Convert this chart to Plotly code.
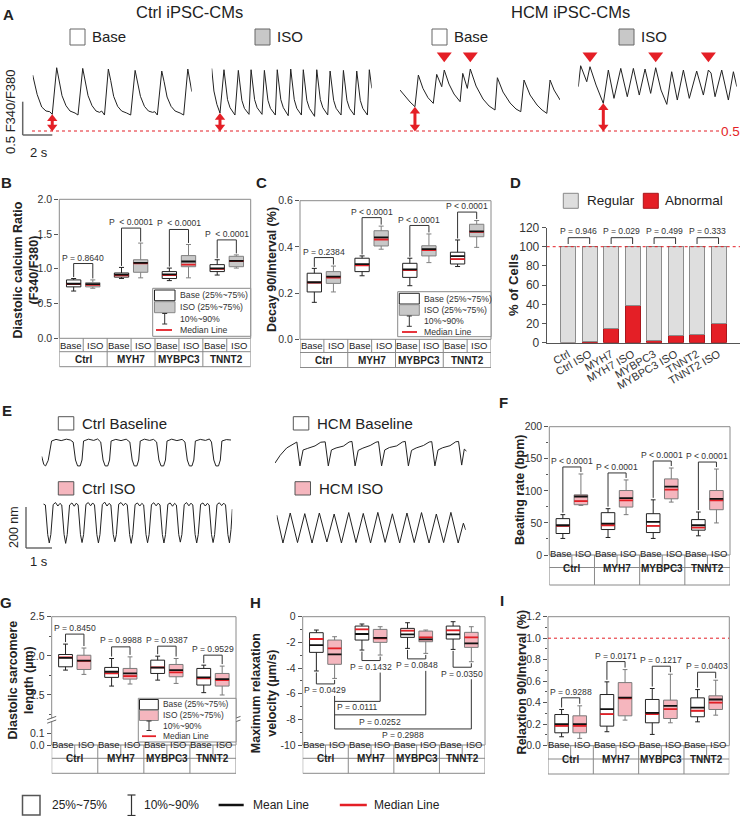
import plotly.graph_objects as go

# ======================= DATA =======================
GROUPS = ['Ctrl', 'MYH7', 'MYBPC3', 'TNNT2']
CONDS = ['Base', 'ISO']

# ---- A: calcium transients (time s, F340/F380 ratio) ----
ctrl_base_trace = [(0.00, 1.34), (0.30, 1.05), (0.61, 0.86), (0.90, 0.80), (1.15, 0.79), (1.32, 0.75),
    (1.62, 1.45), (1.78, 1.27), (1.98, 1.03), (2.25, 0.88), (2.52, 0.80), (2.86, 0.77), (3.06, 0.74),
    (3.38, 1.44), (3.54, 1.27), (3.74, 1.03), (4.01, 0.88), (4.28, 0.80), (4.52, 0.78), (4.66, 0.80), (4.85, 0.74),
    (5.11, 1.43), (5.27, 1.26), (5.47, 1.02), (5.74, 0.87), (6.01, 0.80), (6.35, 0.77), (6.62, 0.74),
    (6.92, 1.41), (7.08, 1.25), (7.28, 1.02), (7.55, 0.87), (7.82, 0.80), (8.10, 0.78), (8.25, 0.79), (8.42, 0.74),
    (8.72, 1.40), (8.88, 1.24), (9.08, 1.01), (9.35, 0.87), (9.62, 0.80), (9.96, 0.77), (10.20, 0.74),
    (10.48, 1.43), (10.60, 1.30), (10.75, 1.09)]
ctrl_iso_trace = [(0.00, 1.44), (0.15, 1.10), (0.35, 0.90), (0.56, 0.77),
    (0.83, 1.42), (0.93, 1.19), (1.07, 0.97), (1.24, 0.85), (1.44, 0.77), (1.57, 0.74),
    (1.80, 1.41), (1.90, 1.18), (2.04, 0.96), (2.21, 0.84), (2.41, 0.77), (2.52, 0.75),
    (2.66, 1.42), (2.76, 1.19), (2.90, 0.97), (3.07, 0.85), (3.27, 0.78), (3.40, 0.75),
    (3.56, 1.41), (3.66, 1.18), (3.80, 0.96), (3.97, 0.84), (4.17, 0.77), (4.30, 0.74),
    (4.43, 1.42), (4.53, 1.19), (4.67, 0.97), (4.84, 0.85), (5.04, 0.77), (5.17, 0.73),
    (5.34, 1.43), (5.44, 1.19), (5.58, 0.97), (5.75, 0.84), (5.95, 0.77), (6.06, 0.74),
    (6.19, 1.42), (6.29, 1.18), (6.43, 0.96), (6.60, 0.84), (6.80, 0.76), (6.95, 0.72),
    (7.10, 1.42), (7.20, 1.19), (7.34, 0.97), (7.51, 0.85), (7.71, 0.77), (7.84, 0.74),
    (8.00, 1.40), (8.10, 1.18), (8.24, 0.96), (8.41, 0.84), (8.61, 0.77), (8.74, 0.74),
    (8.90, 1.41), (9.00, 1.18), (9.14, 0.96), (9.31, 0.84), (9.51, 0.77), (9.63, 0.74),
    (9.80, 1.40), (9.90, 1.17), (10.04, 0.96), (10.21, 0.84), (10.41, 0.77), (10.52, 0.74),
    (10.65, 1.42), (10.72, 1.30), (10.82, 1.14)]
hcm_base_trace = [(0.00, 1.115), (0.34, 1.025), (0.68, 0.935), (1.01, 0.865), (1.24, 1.34), (1.55, 1.14),
    (1.89, 1.00), (2.25, 0.915), (2.48, 1.35), (2.82, 1.165), (2.99, 1.415), (3.31, 1.205), (3.65, 1.055),
    (4.06, 0.94), (4.24, 1.365), (4.55, 1.14), (4.75, 1.43), (5.14, 1.175), (5.61, 0.98), (6.02, 0.875),
    (6.42, 0.815), (6.58, 1.30), (6.96, 1.085), (7.44, 0.92), (7.84, 0.83), (8.16, 0.79), (8.38, 1.265),
    (8.79, 1.04), (9.26, 0.89), (9.60, 0.815), (9.92, 0.765), (10.14, 1.265), (10.41, 1.115), (10.82, 0.965)]
hcm_iso_trace = [(0.00, 1.165), (0.16, 1.48), (0.57, 1.24), (0.79, 1.465), (1.20, 1.19), (1.69, 0.915),
    (2.03, 1.415), (2.41, 0.99), (2.87, 1.44), (3.31, 1.015), (3.72, 1.44), (4.12, 1.04), (4.51, 1.43),
    (4.89, 1.065), (5.23, 1.45), (5.59, 1.115), (5.98, 0.90), (6.31, 1.39), (6.69, 0.965), (7.10, 1.415),
    (7.50, 0.99), (8.00, 1.40), (8.45, 1.04), (8.79, 1.415), (8.97, 1.37), (9.24, 1.015), (9.69, 1.415),
    (10.14, 0.965), (10.48, 1.39), (10.71, 1.165)]
A_arrow_t = [1.32, 0.56, 1.01, 1.69]          # diastolic points marked with arrows
A_arrow_r = [0.75, 0.77, 0.865, 0.915]
hcm_base_marked_t = [2.99, 4.75]              # abnormal beats (red triangles)
hcm_iso_marked_t = [0.79, 5.23, 8.79]
A_ref_level = 0.5

# ---- E: sarcomere length traces (time s, displacement nm) ----
ctrl_base_sl = [(0.00, -80), (0.08, -120), (0.15, -127), (0.25, -100), (0.38, -5), (0.55, 3), (0.75, -3),
    (0.95, 4), (1.10, 0), (1.21, -10), (1.30, -98), (1.38, -127), (1.48, -127), (1.55, -98), (1.61, -5),
    (1.80, 4), (2.00, -2), (2.15, 5), (2.27, -10), (2.36, -98), (2.44, -127), (2.54, -127), (2.61, -98),
    (2.67, -5), (2.85, 3), (3.05, -3), (3.25, 4), (3.39, -10), (3.48, -98), (3.56, -127), (3.66, -127),
    (3.73, -98), (3.79, -5), (3.95, 4), (4.15, -2), (4.30, 3), (4.42, -10), (4.51, -98), (4.59, -127),
    (4.69, -127), (4.76, -98), (4.82, -5), (5.00, 4), (5.20, -3), (5.40, 3), (5.51, -10), (5.60, -98),
    (5.68, -127), (5.78, -127), (5.85, -98), (5.91, -5), (6.10, 3), (6.30, -2), (6.45, 5), (6.53, -10),
    (6.62, -98), (6.70, -127), (6.80, -127), (6.87, -98), (6.93, -5), (7.10, 2), (7.28, 0)]
ctrl_iso_sl = [(0.00, 5), (0.08, 0), (0.17, -145), (0.23, -186), (0.29, -145), (0.38, 2), (0.47, 12),
    (0.56, -5), (0.64, 8), (0.71, 0), (0.80, -145), (0.86, -188), (0.92, -145), (1.01, 0), (1.10, 10),
    (1.19, -6), (1.27, 9), (1.34, 0), (1.43, -145), (1.49, -184), (1.55, -145), (1.64, 3), (1.73, 12),
    (1.82, -4), (1.90, 10), (1.97, 0), (2.06, -145), (2.12, -186), (2.18, -145), (2.27, 2), (2.36, 14),
    (2.45, -5), (2.53, 8), (2.60, 0), (2.69, -145), (2.75, -180), (2.81, -145), (2.90, 4), (2.99, 12),
    (3.08, -3), (3.16, 9), (3.23, 0), (3.32, -145), (3.38, -188), (3.44, -145), (3.53, 2), (3.62, 10),
    (3.71, -5), (3.79, 8), (3.86, 0), (3.95, -145), (4.01, -185), (4.07, -145), (4.16, 2), (4.25, 11),
    (4.34, -4), (4.42, 9), (4.49, 0), (4.58, -145), (4.64, -186), (4.70, -145), (4.79, 3), (4.88, 10),
    (4.97, -6), (5.05, 8), (5.12, 0), (5.21, -145), (5.27, -182), (5.33, -145), (5.42, 2), (5.51, 12),
    (5.60, -4), (5.68, 9), (5.75, 0), (5.84, -145), (5.90, -186), (5.96, -145), (6.05, 3), (6.14, 10),
    (6.23, -5), (6.31, 8), (6.38, 0), (6.47, -145), (6.53, -184), (6.59, -145), (6.68, 2), (6.77, 11),
    (6.86, -3), (6.94, 9), (7.01, 0), (7.10, -145), (7.16, -186), (7.22, -120), (7.27, -20)]
hcm_base_sl = [(0.00, -108), (0.20, -70), (0.45, -34), (0.70, -18), (0.84, -5), (0.96, -122), (1.08, -44),
    (1.26, -36), (1.54, -24), (1.76, -6), (1.93, -4), (2.05, -122), (2.17, -44), (2.35, -34), (2.63, -25),
    (2.85, -5), (2.96, -2), (3.08, -122), (3.20, -46), (3.38, -35), (3.66, -22), (3.88, -6), (3.98, -3),
    (4.10, -122), (4.22, -44), (4.40, -32), (4.68, -24), (4.90, -5), (5.01, -2), (5.13, -122), (5.25, -46),
    (5.43, -34), (5.71, -22), (5.93, -5), (6.03, -3), (6.15, -122), (6.27, -44), (6.45, -33), (6.73, -23),
    (6.95, -4), (7.06, -2), (7.18, -118), (7.28, -40), (7.37, -50)]
hcm_iso_sl = [(0.00, -10), (0.24, -147), (0.52, 0), (0.80, -145), (1.08, -3), (1.36, -147), (1.64, 0),
    (1.93, -142), (2.21, -5), (2.49, -147), (2.77, 2), (3.05, -145), (3.33, -2), (3.61, -147), (3.89, 3),
    (4.17, -144), (4.45, -4), (4.73, -147), (5.01, 0), (5.29, -145), (5.57, 2), (5.86, -147), (6.14, -5),
    (6.42, -145), (6.70, 3), (6.98, -147), (7.18, -50), (7.27, -83)]

# ---- box statistics; order: Ctrl Base, Ctrl ISO, MYH7 Base, MYH7 ISO, MYBPC3 Base, MYBPC3 ISO, TNNT2 Base, TNNT2 ISO
B_p10 = [0.68, 0.72, 0.86, 0.87, 0.83, 0.87, 0.91, 1.01]
B_q1 = [0.74, 0.74, 0.88, 0.95, 0.86, 1.03, 0.96, 1.03]
B_med = [0.78, 0.77, 0.905, 1.08, 0.91, 1.06, 1.00, 1.11]
B_mean = [0.785, 0.78, 0.915, 1.085, 0.92, 1.105, 1.005, 1.115]
B_q3 = [0.84, 0.80, 0.94, 1.13, 0.96, 1.19, 1.06, 1.18]
B_p90 = [0.86, 0.84, 1.02, 1.37, 1.01, 1.35, 1.13, 1.20]
B_pvals = ['P = 0.8640', 'P  < 0.0001', 'P  < 0.0001', 'P  < 0.0001']

C_p10 = [0.16, 0.205, 0.275, 0.39, 0.232, 0.332, 0.315, 0.398]
C_q1 = [0.205, 0.242, 0.293, 0.404, 0.268, 0.361, 0.326, 0.444]
C_med = [0.245, 0.267, 0.32, 0.432, 0.30, 0.386, 0.347, 0.465]
C_mean = [0.247, 0.271, 0.325, 0.441, 0.303, 0.39, 0.36, 0.467]
C_q3 = [0.286, 0.293, 0.351, 0.47, 0.329, 0.405, 0.377, 0.498]
C_p90 = [0.307, 0.317, 0.361, 0.49, 0.351, 0.456, 0.43, 0.514]
C_pvals = ['P = 0.2384', 'P < 0.0001', 'P < 0.0001', 'P < 0.0001']

D_cats = ['Ctrl', 'Ctrl ISO', 'MYH7', 'MYH7 ISO', 'MYBPC3', 'MYBPC3 ISO', 'TNNT2', 'TNNT2 ISO']
D_abnormal = [0, 1.5, 15, 38.5, 2, 8, 8.5, 19.5]
D_regular = [100 - a for a in D_abnormal]
D_pvals = ['P = 0.946', 'P = 0.029', 'P = 0.499', 'P = 0.333']

F_p10 = [25.8, 77.3, 27.3, 62.9, 25.8, 82.5, 29.9, 50]
F_q1 = [33.5, 78.4, 39.7, 74.7, 35, 87.6, 38.7, 70.6]
F_med = [45.4, 84, 46.4, 85, 45.4, 102, 42.8, 85]
F_mean = [46.4, 91.2, 49, 88.7, 51.5, 106.7, 46.4, 87.6]
F_q3 = [56.7, 93.8, 66, 100.5, 64.4, 118.6, 55.2, 100.5]
F_p90 = [62.9, 126.3, 72.2, 117, 86, 135.6, 67, 134]
F_pvals = ['P < 0.0001'] * 4

G_p10 = [1.818, 1.763, 1.614, 1.64, 1.69, 1.648, 1.53, 1.50]
G_q1 = [1.86, 1.826, 1.725, 1.703, 1.775, 1.733, 1.627, 1.614]
G_med = [1.98, 1.935, 1.775, 1.742, 1.852, 1.788, 1.712, 1.69]
G_mean = [1.975, 1.94, 1.797, 1.775, 1.85, 1.818, 1.725, 1.703]
G_q3 = [2.017, 2.008, 1.852, 1.839, 1.945, 1.89, 1.839, 1.775]
G_p90 = [2.15, 2.10, 1.966, 1.987, 1.996, 1.966, 1.881, 1.869]
G_pvals = ['P = 0.8450', 'P = 0.9988', 'P = 0.9387', 'P = 0.9529']

H_p10 = [-4.23, -4.81, -2.6, -2.99, -2.47, -2.86, -2.55, -3.51]
H_q1 = [-2.78, -3.71, -1.82, -2.0, -1.61, -1.95, -1.74, -2.39]
H_med = [-1.74, -2.47, -0.99, -1.69, -1.09, -1.61, -1.06, -1.61]
H_mean = [-2.21, -2.94, -1.35, -1.65, -1.38, -1.77, -1.38, -2.08]
H_q3 = [-1.247, -1.82, -0.73, -0.99, -0.91, -1.12, -0.73, -1.22]
H_p90 = [-1.04, -1.56, -0.57, -0.78, -0.47, -1.04, -0.39, -0.78]
H_pair_pvals = ['P = 0.0429', 'P = 0.1432', 'P = 0.0848', 'P = 0.0350']
H_long_pvals = ['P = 0.0111', 'P = 0.0252', 'P = 0.2988']

I_p10 = [0.083, 0.068, 0.13, 0.238, 0.105, 0.213, 0.222, 0.284]
I_q1 = [0.12, 0.12, 0.182, 0.278, 0.213, 0.253, 0.269, 0.337]
I_med = [0.185, 0.185, 0.294, 0.44, 0.294, 0.34, 0.325, 0.40]
I_mean = [0.20, 0.20, 0.34, 0.448, 0.306, 0.371, 0.355, 0.43]
I_q3 = [0.29, 0.278, 0.476, 0.587, 0.43, 0.424, 0.445, 0.464]
I_p90 = [0.337, 0.371, 0.594, 0.708, 0.532, 0.665, 0.522, 0.609]
I_pvals = ['P = 0.9288', 'P = 0.0171', 'P = 0.1217', 'P = 0.0403']

# ======================= STYLE / HELPERS =======================
W, H = 742, 816
FONT = 'Liberation Sans, Arial, Helvetica, sans-serif'
RED = '#e41f26'
PINK = '#f5b6be'
GREYF = '#c8c8c8'
INK = '#222222'
FRAME = '#8a8a8a'
OFF, BW = 0.2, 0.3
PSIZE = 8.6      # p-value text size
CSIZE = 9.5      # Base / ISO cell text size
LSIZE = 8.7      # in-plot legend text size

fig = go.Figure()
shapes, annots, lay = [], [], {}


def fx(x):
    return x / W


def fy(y):
    return 1 - y / H


def names(n):
    s = '' if n == 1 else str(n)
    return 'x' + s, 'y' + s, 'xaxis' + s, 'yaxis' + s


def txt(x, y, s, size=10, color=INK, bold=False, angle=0, xa='center', ya='middle'):
    if bold:
        s = '<b>' + s + '</b>'
    annots.append(dict(x=fx(x), y=fy(y), xref='paper', yref='paper', text=s, showarrow=False,
                       textangle=angle, xanchor=xa, yanchor=ya,
                       font=dict(size=size, color=color, family=FONT)))


def prect(x0, y0, x1, y1, fill='white', line='#333', lw=1):
    shapes.append(dict(type='rect', xref='paper', yref='paper', x0=fx(x0), x1=fx(x1), y0=fy(y1), y1=fy(y0),
                       fillcolor=fill, line=dict(color=line, width=lw)))


def pline(x0, y0, x1, y1, color='#333', lw=1, dash='solid'):
    shapes.append(dict(type='line', xref='paper', yref='paper', x0=fx(x0), x1=fx(x1), y0=fy(y0), y1=fy(y1),
                       line=dict(color=color, width=lw, dash=dash)))


def seg(n, x0, y0, x1, y1, color='#333', w=1):
    xa, ya = names(n)[:2]
    shapes.append(dict(type='line', xref=xa, yref=ya, x0=x0, y0=y0, x1=x1, y1=y1, line=dict(color=color, width=w)))


def dpath(n, pts, color='#333', w=1):
    xa, ya = names(n)[:2]
    p = 'M ' + ' L '.join(f'{a},{b}' for a, b in pts)
    shapes.append(dict(type='path', path=p, xref=xa, yref=ya, line=dict(color=color, width=w)))


def dtext(n, x, y, s, size=PSIZE, color='#333'):
    xa, ya = names(n)[:2]
    annots.append(dict(x=x, y=y, xref=xa, yref=ya, text=s, showarrow=False, xanchor='center', yanchor='middle',
                       font=dict(size=size, color=color, family=FONT)))


def trace_axes(n, xpx, ypx, xscale, yref_px, yscale):
    xa, ya, kx, ky = names(n)
    lay[kx] = dict(domain=[fx(xpx[0]), fx(xpx[1])], range=[0, (xpx[1] - xpx[0]) * xscale], visible=False, anchor=ya)
    lay[ky] = dict(domain=[fy(ypx[1]), fy(ypx[0])], visible=False, anchor=xa,
                   range=[yref_px[1] - (ypx[1] - yref_px[0]) * yscale, yref_px[1] + (yref_px[0] - ypx[0]) * yscale])
    return xa, ya


def add_line_trace(n, pts, color=INK, w=1):
    xa, ya = names(n)[:2]
    fig.add_trace(go.Scatter(x=[p[0] for p in pts], y=[p[1] for p in pts], mode='lines',
                             line=dict(color=color, width=w), xaxis=xa, yaxis=ya,
                             hoverinfo='skip', showlegend=False))


# ======================= PANEL A =======================
txt(8, 14, 'A', 15, bold=True)
txt(189, 12, 'Ctrl iPSC-CMs', 16.5)
txt(570, 12, 'HCM iPSC-CMs', 16.5)
for (sx, fill, lab) in [(70, 'white', 'Base'), (255, GREYF, 'ISO'), (432, 'white', 'Base'), (619, GREYF, 'ISO')]:
    prect(sx, 29, sx + 15, 45, fill=fill, line='#666')
    txt(sx + 20, 37, lab, 15, xa='left')

A_spp = 2 / 29.6        # s per px (2 s scale bar)
A_rpp = 0.5 / 33.3      # ratio per px (0.5 scale bar)
A_sets = [(1, (32.7, 191.7), ctrl_base_trace), (2, (211.7, 371.7), ctrl_iso_trace),
          (3, (400, 560), hcm_base_trace), (4, (578.3, 736.7), hcm_iso_trace)]
for k, (n, xpx, tr) in enumerate(A_sets):
    xa, ya = trace_axes(n, xpx, (45, 140), A_spp, (131, A_ref_level), A_rpp)
    add_line_trace(n, tr)
    # double-headed arrow between the 0.5 reference line and the diastolic level
    top = A_arrow_r[k] - 1.0 * A_rpp - 3.5 * A_rpp
    bot = A_ref_level + 0.5 * A_rpp + 3.5 * A_rpp
    fig.add_trace(go.Scatter(x=[A_arrow_t[k], A_arrow_t[k]], y=[top, bot], mode='lines+markers', cliponaxis=False,
                             line=dict(color=RED, width=3),
                             marker=dict(symbol=['triangle-up', 'triangle-down'], size=9, color=RED),
                             xaxis=xa, yaxis=ya, hoverinfo='skip', showlegend=False))
for n, mt in [(3, hcm_base_marked_t), (4, hcm_iso_marked_t)]:
    xa, ya = names(n)[:2]
    fig.add_trace(go.Scatter(x=mt, y=[1.63] * len(mt), mode='markers', cliponaxis=False,
                             marker=dict(symbol='triangle-down', size=13, color=RED),
                             xaxis=xa, yaxis=ya, hoverinfo='skip', showlegend=False))
shapes.append(dict(type='line', xref='paper', yref='y', x0=fx(32), x1=fx(721), y0=A_ref_level, y1=A_ref_level,
                   line=dict(color=RED, width=1.2, dash='dot')))
txt(741.5, 131, '0.5', 13.5, color=RED, xa='right')
pline(22.7, 101.7, 22.7, 135, color='#666', lw=1.5)
pline(22.7, 135, 52.3, 135, color='#666', lw=1.5)
txt(11, 112, '0.5 F340/F380', 13, angle=-90)
txt(39, 152, '2 s', 13)

# ======================= BOX PANELS =======================
def table(n, rows):
    xa = names(n)[0]
    top, mid, bot = rows

    def v(x, y0, y1):
        shapes.append(dict(type='line', xref=xa, yref='paper', x0=x, x1=x, y0=fy(y0), y1=fy(y1),
                           line=dict(color=FRAME, width=1)))

    for yy in (mid, bot):
        shapes.append(dict(type='line', xref=xa, yref='paper', x0=-0.5, x1=3.5, y0=fy(yy), y1=fy(yy),
                           line=dict(color=FRAME, width=1)))
    for g in range(4):
        v(g - 0.5, top, bot)
        v(g, top, mid)
        for s, c in zip((-0.25, 0.25), CONDS):
            annots.append(dict(x=g + s, y=fy((top + mid) / 2), xref=xa, yref='paper', text=c, showarrow=False,
                               font=dict(size=CSIZE, color='#222', family=FONT)))
        annots.append(dict(x=g, y=fy((mid + bot) / 2), xref=xa, yref='paper', text='<b>' + GROUPS[g] + '</b>',
                           showarrow=False, font=dict(size=10, color='#222', family=FONT)))
    v(3.5, top, bot)


def box_panel(n, xpx, ypx, yr, stats, iso_fill, iso_line, tickvals, ticktext, minor=None, frame=True):
    xa, ya, kx, ky = names(n)
    lay[kx] = dict(domain=[fx(xpx[0]), fx(xpx[1])], range=[-0.5, 3.5], visible=False, anchor=ya)
    lay[ky] = dict(domain=[fy(ypx[1]), fy(ypx[0])], range=yr, anchor=xa, tickvals=tickvals, ticktext=ticktext,
                   ticks='outside', ticklen=4, tickcolor='#555', showgrid=False, zeroline=False, showline=False,
                   tickfont=dict(size=10.5, color='#333', family=FONT))
    if minor:
        lay[ky]['minor'] = dict(tickvals=minor, ticks='outside', ticklen=2, tickcolor='#555', showgrid=False)
    pos = [g + s * OFF for g in range(4) for s in (-1, 1)]
    p10, q1, med, mean, q3, p90 = stats
    for k, (fill, lc) in enumerate([('white', '#222'), (iso_fill, iso_line)]):
        idx = list(range(k, 8, 2))
        fig.add_trace(go.Box(x=[pos[i] for i in idx], q1=[q1[i] for i in idx], median=[med[i] for i in idx],
                             q3=[q3[i] for i in idx], lowerfence=[p10[i] for i in idx],
                             upperfence=[p90[i] for i in idx], orientation='v', width=BW, whiskerwidth=0.35,
                             fillcolor=fill, line=dict(color=lc, width=1), boxpoints=False,
                             xaxis=xa, yaxis=ya, hoverinfo='skip', showlegend=False))
    for vals, col in ((med, RED), (mean, '#111')):
        xs, ys = [], []
        for i in range(8):
            xs += [pos[i] - BW / 2, pos[i] + BW / 2, None]
            ys += [vals[i], vals[i], None]
        fig.add_trace(go.Scatter(x=xs, y=ys, mode='lines', line=dict(color=col, width=1.8),
                                 xaxis=xa, yaxis=ya, hoverinfo='skip', showlegend=False))
    if frame:
        shapes.append(dict(type='rect', xref=xa + ' domain', yref=ya + ' domain', x0=0, x1=1, y0=0, y1=1,
                           line=dict(color=FRAME, width=1)))
    return pos


def brackets_above(n, pos, p90, labels, scale, off, gap=2.0, tgap=6.2):
    for g in range(4):
        i, j = 2 * g, 2 * g + 1
        top = max(p90[i], p90[j]) + off * scale
        dpath(n, [(pos[i], p90[i] + gap * scale), (pos[i], top), (pos[j], top), (pos[j], p90[j] + gap * scale)])
        dtext(n, (pos[i] + pos[j]) / 2, top + tgap * scale, labels[g])


def legend_box(frame, sx, white_y, iso_y, iso_fill, wh, red, tx, ty, size=LSIZE):
    prect(*frame, fill='white', line=FRAME)
    prect(sx[0], white_y[0], sx[1], white_y[1], fill='white', line='#222')
    prect(sx[0], iso_y[0], sx[1], iso_y[1], fill=iso_fill, line='#888')
    pline(wh[0], wh[1], wh[0], wh[2], color='#333')
    pline(wh[0] - 2.5, wh[1], wh[0] + 2.5, wh[1], color='#333')
    pline(wh[0] - 2.5, wh[2], wh[0] + 2.5, wh[2], color='#333')
    pline(red[0], red[2], red[1], red[2], color=RED, lw=1.8)
    for s, yy in zip(['Base (25%~75%)', 'ISO (25%~75%)', '10%~90%', 'Median Line'], ty):
        txt(tx, yy, s, size, color='#333', xa='left')


# ---- B ----
txt(6, 182, 'B', 15, bold=True)
posB = box_panel(5, (59.3, 250.7), (199.3, 338.3), [0, 2.0], (B_p10, B_q1, B_med, B_mean, B_q3, B_p90),
                 GREYF, '#808080', [0, 0.5, 1.0, 1.5, 2.0], ['0.0', '0.5', '1.0', '1.5', '2.0'])
table(5, (338.3, 351.7, 366.7))
brackets_above(5, posB, B_p90, B_pvals, 2.0 / 139.0, 15, gap=1.5, tgap=6.0)
legend_box((152.7, 288.3, 250.7, 336.3), (154.5, 175), (290, 300.7), (301.7, 312.7), GREYF,
           (164.7, 313.5, 324), (156, 172, 330), 177.7, [295.3, 307.2, 318.7, 330])
txt(25.5, 270, 'Diastolic calcium Ratio<br>(F340/F380)', 12.5, bold=True, angle=-90)

# ---- C ----
txt(261, 182, 'C', 15, bold=True)
posC = box_panel(6, (300, 491), (200.7, 339.3), [0, 0.6], (C_p10, C_q1, C_med, C_mean, C_q3, C_p90),
                 GREYF, '#808080', [0, 0.2, 0.4, 0.6], ['0.0', '0.2', '0.4', '0.6'])
table(6, (339.3, 352.5, 367.5))
brackets_above(6, posC, C_p90, C_pvals, 0.6 / 138.6, 8.5, gap=1.5, tgap=5.8)
legend_box((397.7, 291.7, 491, 336.7), (399.3, 419.3), (293.3, 304), (304.7, 315.3), GREYF,
           (409.3, 316, 326.3), (402, 417, 332), 421.7, [299, 309.7, 320.7, 331.7])
txt(272, 270, 'Decay 90/Interval (%)', 12.5, bold=True, angle=-90)

# ---- D ----
txt(515, 183, 'D', 15, bold=True)
xa7, ya7, kx7, ky7 = names(7)
lay[kx7] = dict(domain=[fx(546.7), fx(740)], range=[-1, 8], anchor=ya7, type='category', showline=True,
                linecolor='#555', ticks='', tickangle=-30, showgrid=False,
                tickfont=dict(size=11, color='#333', family=FONT))
lay[ky7] = dict(domain=[fy(342.7), fy(227.5)], range=[0, 120], anchor=xa7, showline=True, linecolor='#555',
                ticks='outside', ticklen=4, tickcolor='#555', tickvals=list(range(0, 121, 20)), showgrid=False,
                zeroline=False, tickfont=dict(size=12, color='#333', family=FONT))
fig.add_trace(go.Bar(x=D_cats, y=D_abnormal, width=0.7, marker=dict(color=RED, line=dict(color='#a8161c', width=1)),
                     xaxis=xa7, yaxis=ya7, hoverinfo='skip', showlegend=False))
fig.add_trace(go.Bar(x=D_cats, y=D_regular, width=0.7, marker=dict(color='#dedede', line=dict(color='#8c8c8c', width=1)),
                     xaxis=xa7, yaxis=ya7, hoverinfo='skip', showlegend=False))
shapes.append(dict(type='line', xref=xa7, yref=ya7, x0=-1, x1=8, y0=100, y1=100,
                   line=dict(color=RED, width=1, dash='dot')))
for g in range(4):
    i, j = 2 * g, 2 * g + 1
    dpath(7, [(i, 102.8), (i, 109.4), (j, 109.4), (j, 102.8)])
    dtext(7, (i + j) / 2, 116.7, D_pvals[g], size=PSIZE)
prect(563.3, 193.3, 578.3, 208.3, fill='#dedede', line='#888')
txt(585, 200.7, 'Regular', 13.5, xa='left')
prect(643.3, 193.3, 658.3, 208.3, fill=RED, line='#a8161c')
txt(663.3, 200.7, 'Abnormal', 13.5, xa='left')
txt(513, 285, '% of Cells', 13, bold=True, angle=-90)

# ======================= PANEL E =======================
txt(7, 410, 'E', 15, bold=True)
E_spp, E_npp = 1 / 26.0, 4.9
E_sets = [(8, (41.7, 231), (432, 470), 440, ctrl_base_sl), (9, (43.3, 232.3), (497, 548), 505, ctrl_iso_sl),
          (10, (275, 466.7), (432, 470), 441, hcm_base_sl), (11, (276.7, 465.7), (505, 548), 513, hcm_iso_sl)]
for n, xpx, ypx, ref, tr in E_sets:
    trace_axes(n, xpx, ypx, E_spp, (ref, 0), E_npp)
    add_line_trace(n, tr)
for sx, sy, fill, lab in [(58.3, 416.7, 'white', 'Ctrl Baseline'), (58.3, 481.7, PINK, 'Ctrl ISO'),
                          (293.3, 416.7, 'white', 'HCM Baseline'), (295, 481.7, PINK, 'HCM ISO')]:
    prect(sx, sy, sx + 15.5, sy + 13.3, fill=fill, line='#555')
    txt(sx + 21.5, sy + 6.8, lab, 15, xa='left')
pline(26, 507, 26, 548, color='#555', lw=1.3)
pline(26, 548, 52, 548, color='#555', lw=1.3)
txt(14, 527, '200 nm', 12.5, angle=-90)
txt(39, 561, '1 s', 13)

# ---- F ----
txt(504, 402, 'F', 15, bold=True)
posF = box_panel(12, (549.3, 730), (426.7, 555), [0, 200], (F_p10, F_q1, F_med, F_mean, F_q3, F_p90),
                 PINK, '#7a7a7a', [0, 50, 100, 150, 200], ['0', '50', '100', '150', '200'],
                 minor=[25, 75, 125, 175])
table(12, (555, 567.5, 585))
brackets_above(12, posF, F_p90, F_pvals, 200 / 128.3, 7, gap=2.0, tgap=6.0)
txt(520, 490, 'Beating rate (bpm)', 12.5, bold=True, angle=-90)

# ---- G (broken axis) ----
txt(6, 602, 'G', 15, bold=True)
posG = box_panel(13, (51.7, 236), (616.7, 719.5), [1.187, 2.5], (G_p10, G_q1, G_med, G_mean, G_q3, G_p90),
                 PINK, '#7a7a7a', [1.5, 2.0, 2.5], ['1.5', '2.0', '2.5'], minor=[1.25, 1.75, 2.25], frame=False)
xa13 = names(13)[0]
_, ya14, _, ky14 = names(14)
lay[ky14] = dict(domain=[fy(745), fy(721)], range=[0, 0.205], anchor=xa13, tickvals=[0, 0.1], ticktext=['0.0', '0.1'],
                 ticks='outside', ticklen=4, tickcolor='#555', showgrid=False, zeroline=False, showline=False,
                 tickfont=dict(size=10.5, color='#333', family=FONT))
fig.add_trace(go.Scatter(x=[0], y=[0.05], mode='markers', marker=dict(opacity=0), xaxis=xa13, yaxis=ya14,
                         hoverinfo='skip', showlegend=False))
pline(51.7, 616.7, 236, 616.7, color=FRAME)
pline(51.7, 616.7, 51.7, 745, color=FRAME)
pline(236, 616.7, 236, 745, color=FRAME)
pline(51.7, 745, 236, 745, color=FRAME)
for bx in (51.7, 236):
    prect(bx - 2, 718.6, bx + 2, 721.4, fill='white', line='white', lw=0)
    pline(bx - 4.5, 719.6, bx + 4.5, 716.4, color='#666')
    pline(bx - 4.5, 723.2, bx + 4.5, 720.0, color='#666')
table(13, (745, 758.3, 773.3))
brackets_above(13, posG, G_p90, G_pvals, (2.5 - 1.187) / 102.8, 10, gap=2.0, tgap=6.6)
legend_box((138.3, 698.3, 236, 742), (139.5, 158.3), (699.5, 709.8), (710.2, 720.5), PINK,
           (149, 721, 730.5), (142, 156, 736.2), 161, [704.3, 714.9, 725.5, 736.2], size=8.4)
txt(20.5, 680, 'Diastolic sarcomere<br>length (µm)', 12.5, bold=True, angle=-90)

# ---- H ----
txt(255, 602, 'H', 15, bold=True)
posH = box_panel(15, (302.7, 485), (616.7, 745), [-10, 0], (H_p10, H_q1, H_med, H_mean, H_q3, H_p90),
                 PINK, '#7a7a7a', [-10, -8, -6, -4, -2, 0], ['-10', '-8', '-6', '-4', '-2', '0'],
                 minor=[-9, -7, -5, -3, -1])
table(15, (745, 758.3, 773.3))
scH = 10 / 128.3
pair_text_y = []
for g in range(4):
    i, j = 2 * g, 2 * g + 1
    lvl = min(H_p10[i], H_p10[j]) - 5.5 * scH
    dpath(15, [(posH[i], H_p10[i] - 1.5 * scH), (posH[i], lvl), (posH[j], lvl), (posH[j], H_p10[j] - 1.5 * scH)])
    ty = lvl - 6.5 * scH
    dtext(15, (posH[i] + posH[j]) / 2, ty, H_pair_pvals[g])
    pair_text_y.append(ty)
H_long_levels = [-6.6, -7.65, -8.75]
H_long_text = [-7.05, -8.22, -9.25]
seg(15, posH[1], pair_text_y[0] - 5.5 * scH, posH[1], H_long_levels[-1])
for k, g in enumerate([1, 2, 3]):
    j = 2 * g + 1
    seg(15, posH[j], pair_text_y[g] - 5.5 * scH, posH[j], H_long_levels[k])
    seg(15, posH[1], H_long_levels[k], posH[j], H_long_levels[k])
    dtext(15, (posH[1] + posH[j]) / 2, H_long_text[k], H_long_pvals[k])
txt(264.2, 693, 'Maximum relaxation<br>velocity (µm/s)', 12.5, bold=True, angle=-90)

# ---- I ----
txt(502, 600, 'I', 15, bold=True)
posI = box_panel(16, (548, 729.3), (616.7, 745.7), [0, 1.2], (I_p10, I_q1, I_med, I_mean, I_q3, I_p90),
                 PINK, '#7a7a7a', [0, 0.2, 0.4, 0.6, 0.8, 1.0, 1.2], ['0.0', '0.2', '0.4', '0.6', '0.8', '1.0', '1.2'],
                 minor=[0.1, 0.3, 0.5, 0.7, 0.9, 1.1])
table(16, (745.7, 759, 774))
xa16, ya16 = names(16)[:2]
shapes.append(dict(type='line', xref=xa16, yref=ya16, x0=-0.5, x1=3.5, y0=1.0, y1=1.0,
                   line=dict(color=RED, width=1, dash='dot')))
brackets_above(16, posI, I_p90, I_pvals, 1.2 / 129.0, 8, gap=2.0, tgap=6.0)
txt(521.7, 681.7, 'Relaxtion 90/Interval (%)', 12.5, bold=True, angle=-90)

# ======================= BOTTOM LEGEND =======================
prect(22.5, 795.5, 40, 815, fill='white', line='#555', lw=1.5)
txt(50, 805, '25%~75%', 12, xa='left')
pline(131.5, 795, 131.5, 815.5, color='#333', lw=1.2)
pline(127.5, 795, 135.5, 795, color='#333', lw=1.2)
pline(127.5, 815.5, 135.5, 815.5, color='#333', lw=1.2)
txt(142, 805, '10%~90%', 12, xa='left')
pline(218.6, 805, 243.7, 805, color='#111', lw=2.5)
txt(250.8, 805, 'Mean Line', 12, xa='left')
pline(339.8, 805, 366.8, 805, color=RED, lw=2.5)
txt(371.5, 805, 'Median Line', 12, xa='left')

# no automatic margin growth anywhere: every axis keeps its exact pixel domain
for key in lay:
    lay[key]['automargin'] = False

fig.update_layout(width=W, height=H, margin=dict(l=0, r=0, t=0, b=0, pad=0, autoexpand=False),
                  paper_bgcolor='white', plot_bgcolor='white', showlegend=False, barmode='stack',
                  font=dict(family=FONT), shapes=shapes, annotations=annots, **lay)
fig.write_html('out.html', config={'displayModeBar': False},
               post_script="document.body.style.margin='0';document.body.style.overflow='hidden';")
